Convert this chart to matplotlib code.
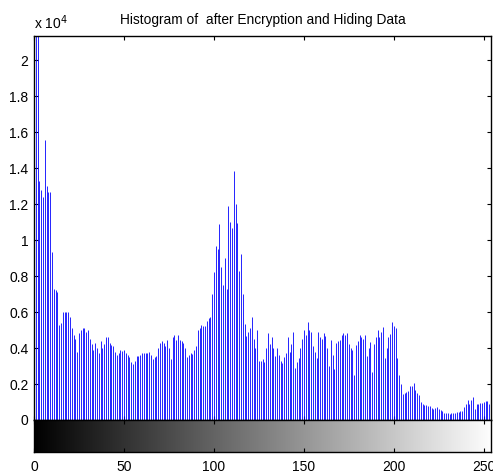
import numpy as np
import matplotlib
matplotlib.use('Agg')
import matplotlib.pyplot as plt
from matplotlib.ticker import FuncFormatter

# histogram counts per gray level, in units of 10^4
counts_e4 = [
    2.4, 2.3, 2.2, 1.33, 1.28, 1.24, 1.555, 1.3, 1.27, 1.265,
    0.935, 0.73, 0.72, 0.71, 0.53, 0.54, 0.60, 0.60, 0.60, 0.60,
    0.57, 0.51, 0.47, 0.45, 0.38, 0.485, 0.50, 0.51, 0.51, 0.49,
    0.50, 0.45, 0.42, 0.39, 0.43, 0.40, 0.37, 0.44, 0.40, 0.42,
    0.46, 0.46, 0.43, 0.415, 0.41, 0.38, 0.36, 0.37, 0.39, 0.385,
    0.39, 0.37, 0.36, 0.35, 0.32, 0.31, 0.33, 0.355, 0.355, 0.36,
    0.37, 0.37, 0.375, 0.37, 0.38, 0.36, 0.34, 0.35, 0.355, 0.40,
    0.43, 0.44, 0.43, 0.41, 0.445, 0.40, 0.34, 0.46, 0.475, 0.445,
    0.475, 0.445, 0.44, 0.43, 0.40, 0.35, 0.36, 0.375, 0.365, 0.39,
    0.41, 0.50, 0.51, 0.53, 0.52, 0.52, 0.55, 0.565, 0.575, 0.70,
    0.82, 0.967, 0.95, 1.087, 0.85, 0.75, 0.90, 0.728, 1.19, 1.10,
    1.067, 1.383, 1.2, 1.093, 0.828, 0.924, 0.7, 0.533, 0.467, 0.49,
    0.51, 0.57, 0.45, 0.40, 0.50, 0.33, 0.33, 0.337, 0.325, 0.40,
    0.485, 0.42, 0.46, 0.40, 0.355, 0.40, 0.36, 0.33, 0.315, 0.35,
    0.37, 0.46, 0.38, 0.42, 0.49, 0.29, 0.32, 0.345, 0.40, 0.45,
    0.50, 0.474, 0.546, 0.50, 0.49, 0.41, 0.38, 0.345, 0.49, 0.46,
    0.45, 0.485, 0.467, 0.40, 0.30, 0.445, 0.36, 0.285, 0.43, 0.44,
    0.445, 0.475, 0.485, 0.47, 0.485, 0.42, 0.40, 0.39, 0.25, 0.415,
    0.44, 0.47, 0.463, 0.45, 0.47, 0.355, 0.40, 0.433, 0.267, 0.42,
    0.46, 0.50, 0.463, 0.49, 0.515, 0.345, 0.40, 0.46, 0.48, 0.545,
    0.52, 0.51, 0.345, 0.25, 0.20, 0.145, 0.15, 0.155, 0.16, 0.187,
    0.19, 0.207, 0.167, 0.15, 0.139, 0.10, 0.09, 0.085, 0.085, 0.08,
    0.078, 0.065, 0.06, 0.065, 0.074, 0.06, 0.055, 0.05, 0.04, 0.04,
    0.04, 0.033, 0.037, 0.04, 0.04, 0.045, 0.045, 0.05, 0.052, 0.074,
    0.09, 0.111, 0.089, 0.11, 0.126, 0.063, 0.089, 0.09, 0.096, 0.096,
    0.10, 0.104, 0.106, 0.09, 0.085, 0.09,
]
levels = np.arange(256)
counts = np.array(counts_e4) * 1e4

x_ticks = [0, 50, 100, 150, 200, 250]
y_ticks = [0, 2000, 4000, 6000, 8000, 10000, 12000, 14000, 16000, 18000, 20000]
title = 'Histogram of  after Encryption and Hiding Data'

plt.rcParams['font.family'] = ['Liberation Sans', 'DejaVu Sans']
plt.rcParams['font.size'] = 10

fig = plt.figure(figsize=(4.93, 4.75), dpi=100)
ax = fig.add_axes([0.069, 0.1158, 0.927, 0.808])
cb = fig.add_axes([0.069, 0.0484, 0.927, 0.0674])

# histogram stems
ax.vlines(levels, 0, counts, colors='#0000ff', linewidth=0.6)
ax.set_xlim(0, 254)
ax.set_ylim(0, 21333)
ax.set_xticks(x_ticks)
ax.set_xticklabels([])
ax.set_yticks(y_ticks)
ax.yaxis.set_major_formatter(FuncFormatter(lambda v, p: f'{v / 1e4:g}'))
ax.tick_params(direction='in', length=3, width=0.8, top=True, right=True, pad=4)
for s in ax.spines.values():
    s.set_linewidth(1.0)
ax.set_title(title, fontsize=9.9, pad=9)
ax.text(0.0, 1.012, r'x 10$^{4}$', transform=ax.transAxes, fontsize=10,
        ha='left', va='bottom')

# gray level bar
cb.imshow(levels[np.newaxis, :], cmap='gray', aspect='auto',
          extent=[-0.5, 255.5, 0, 1], vmin=0, vmax=255)
cb.set_xlim(0, 254)
cb.set_ylim(0, 1)
cb.set_xticks(x_ticks)
cb.set_yticks([])
cb.tick_params(direction='in', length=3, width=0.8, top=True, pad=6)
for s in cb.spines.values():
    s.set_linewidth(1.0)

fig.savefig('out.png', dpi=100)
